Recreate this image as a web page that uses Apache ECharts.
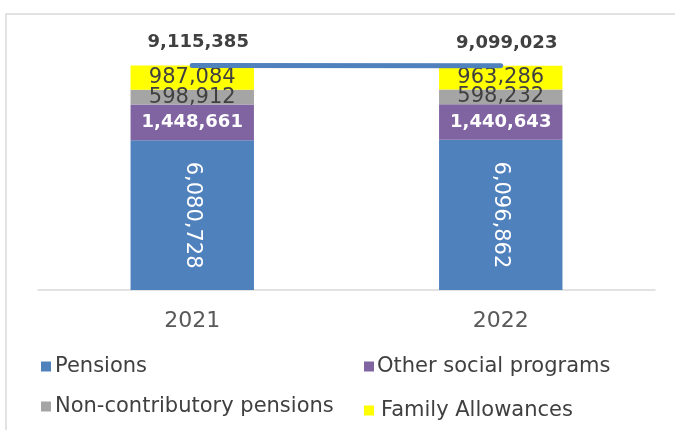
<!DOCTYPE html>
<html>
<head>
<meta charset="utf-8">
<script src="https://cdn.jsdelivr.net/npm/echarts@6/dist/echarts.min.js"></script>
<style>
  html, body { margin: 0; padding: 0; background: #ffffff; }
  #chart { width: 675px; height: 430px; }
</style>
</head>
<body>
<div id="chart"></div>
<script>
// Social spending by programme, 2021 vs 2022
const years = ['2021', '2022'];
const pensions = [6080728, 6096862];
const otherPrograms = [1448661, 1440643];
const nonContributory = [598912, 598232];
const familyAllowances = [987084, 963286];
const totals = [9115385, 9099023];

const FONT = '"DejaVu Sans", "Noto Sans", sans-serif';
const fmt = v => Number(v).toLocaleString('en-US');

const chart = echarts.init(document.getElementById('chart'));

function legendAt(name, left, top, textGap) {
  return {
    data: [name],
    left: left,
    top: top,
    padding: 0,
    itemWidth: 10,
    itemHeight: 10,
    itemGap: 0,
    icon: 'rect',
    selectedMode: false,
    textStyle: { color: '#404040', fontSize: 21, fontFamily: FONT, padding: [0, 0, 0, textGap] }
  };
}

chart.setOption({
  animation: false,
  backgroundColor: '#ffffff',
  graphic: [{
    type: 'rect',
    shape: { x: 6, y: 14, width: 720, height: 480 },
    style: { fill: 'none', stroke: '#d9d9d9', lineWidth: 1.5 },
    silent: true
  }],
  grid: { left: 38, right: 20, top: 19, bottom: 140 },
  legend: [
    legendAt('Pensions', 41, 356, -1),
    legendAt('Other social programs', 364, 356, -2),
    legendAt('Non-contributory pensions', 41, 396, -1),
    legendAt('Family Allowances', 364, 400, 2)
  ],
  xAxis: {
    type: 'category',
    data: years,
    axisLine: { lineStyle: { color: '#d9d9d9', width: 1.5 } },
    axisTick: { show: false },
    axisLabel: { color: '#595959', fontSize: 22, fontFamily: FONT, margin: 20 }
  },
  yAxis: {
    type: 'value',
    min: 0,
    max: 11000000,
    show: false,
    splitLine: { show: false }
  },
  series: [
    {
      name: 'Pensions', type: 'bar', stack: 'all', data: pensions,
      barWidth: '40%',
      itemStyle: { color: '#4F81BD' },
      label: {
        show: true, position: 'inside', rotate: -90,
        color: '#ffffff', fontSize: 21, fontFamily: FONT,
        formatter: p => fmt(p.value)
      }
    },
    {
      name: 'Other social programs', type: 'bar', stack: 'all', data: otherPrograms,
      itemStyle: { color: '#8064A2' },
      label: {
        show: true, position: 'inside',
        color: '#ffffff', fontSize: 18, fontWeight: 'bold', fontFamily: FONT,
        formatter: p => fmt(p.value)
      }
    },
    {
      name: 'Non-contributory pensions', type: 'bar', stack: 'all', data: nonContributory,
      itemStyle: { color: '#A5A5A5' },
      label: {
        show: true, position: 'inside',
        color: '#404040', fontSize: 21, fontFamily: FONT,
        formatter: p => fmt(p.value)
      }
    },
    {
      name: 'Family Allowances', type: 'bar', stack: 'all', data: familyAllowances,
      itemStyle: { color: '#FFFF00' },
      label: {
        show: true, position: 'inside',
        color: '#404040', fontSize: 21, fontFamily: FONT,
        formatter: p => fmt(p.value)
      }
    },
    {
      name: 'Total', type: 'line', data: totals,
      symbol: 'circle', symbolSize: 2, showSymbol: true, z: 5,
      itemStyle: { color: '#4F81BD' },
      lineStyle: { color: '#4F81BD', width: 5, cap: 'round' },
      label: {
        show: true, position: 'top', distance: 13, offset: [6, 0],
        color: '#404040', fontSize: 18, fontWeight: 'bold', fontFamily: FONT,
        formatter: p => fmt(p.value)
      }
    }
  ]
});
</script>
</body>
</html>
